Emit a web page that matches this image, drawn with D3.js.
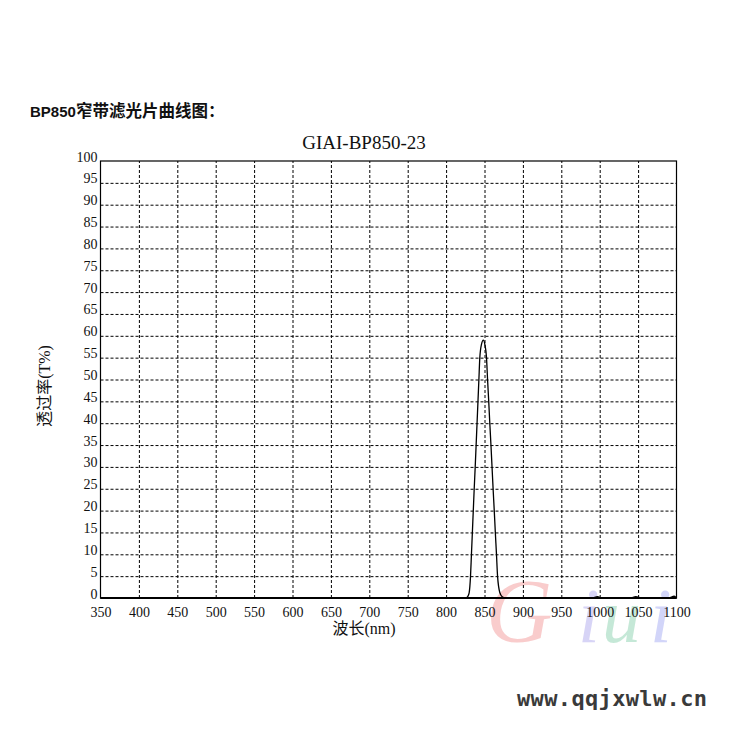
<!DOCTYPE html>
<html><head><meta charset="utf-8">
<script src="https://cdn.jsdelivr.net/npm/d3@7"></script>
<style>html,body{margin:0;padding:0;background:#fff;}svg{display:block;}</style>
</head><body>
<script>
const headingLatin = "BP850";
const headingCJK = "窄带滤光片曲线图：";
const chartTitle = "GIAI-BP850-23";
const xLabel = "波长(nm)";
const yLabel = "透过率(T%)";
const siteUrl = "www.qqjxwlw.cn";
const xTicks = [350,400,450,500,550,600,650,700,750,800,850,900,950,1000,1050,1100];
const yTicks = [0,5,10,15,20,25,30,35,40,45,50,55,60,65,70,75,80,85,90,95,100];
const wavelength = [350,500,700,820,826,828,830,831.8,833.0,834.2,835.4,836.6,837.9,839.1,840.3,841.5,842.7,843.9,846,848.5,850.5,852.6,854.0,855.5,856.9,858.4,859.8,861.2,862.7,864.1,865.6,867,870,873,877,900,990,997,1003,1040,1047,1055,1090,1097,1100];
const transmission = [0,0,0,0,0,0.3,1.2,5,10,15,20,25,30,35,40,45,50,55,58,59,58,55,50,45,40,35,30,25,20,15,10,5,1.2,0.3,0,0,0,0.3,0,0,0.3,0,0,0.4,0];

const W = 742, H = 743;
const svg = d3.select("body").append("svg").attr("width", W).attr("height", H);
const serif = "'Liberation Serif','Times New Roman','Noto Sans CJK SC',serif";

const x = d3.scaleLinear().domain([350,1100]).range([100.5,676.5]);
const y = d3.scaleLinear().domain([0,100]).range([598,161]);

// heading
const hd = svg.append("text").attr("x",30).attr("y",117)
  .attr("font-family","'Liberation Sans',Arial,'Noto Sans CJK SC',sans-serif")
  .attr("font-weight","bold").attr("fill","#111");
hd.append("tspan").attr("font-size",15).text(headingLatin);
hd.append("tspan").attr("font-size",16.5).attr("font-family","'Noto Sans CJK SC',sans-serif").text(headingCJK);

// chart title
svg.append("text").attr("x",364).attr("y",148.5).attr("text-anchor","middle")
  .attr("font-family",serif).attr("font-size",19).attr("fill","#111").text(chartTitle);

// watermark
const wm = svg.append("g").attr("font-family","'Liberation Serif',serif").attr("font-style","italic").attr("opacity",0.35);
const wmLetters = [{t:"G",x:486,c:"#ee6f6f",s:92},{t:"i",x:578,c:"#8f86e8",s:78},{t:"u",x:602,c:"#5cc08e",s:78},{t:"i",x:650,c:"#7f88ee",s:78}];
wmLetters.forEach(d=>wm.append("text").attr("x",d.x).attr("y",642).attr("font-size",d.s).attr("fill",d.c).text(d.t));

// gridlines
const g = svg.append("g");
g.append("g").attr("transform",`translate(${x.range()[0]},0)`)
  .call(d3.axisLeft(y).tickValues(yTicks.filter(v=>v>0&&v<100)).tickSize(-(x.range()[1]-x.range()[0])).tickFormat(""))
  .call(s=>s.select(".domain").remove())
  .call(s=>s.selectAll("line").attr("stroke","#000").attr("stroke-dasharray","3,2").attr("stroke-width",1));
g.append("g").attr("transform",`translate(0,${y.range()[0]})`)
  .call(d3.axisBottom(x).tickValues(xTicks.filter(v=>v>350&&v<1100)).tickSize(-(y.range()[0]-y.range()[1])).tickFormat(""))
  .call(s=>s.select(".domain").remove())
  .call(s=>s.selectAll("line").attr("stroke","#000").attr("stroke-dasharray","3,2").attr("stroke-width",1));

// frame
svg.append("rect").attr("x",x.range()[0]).attr("y",y.range()[1])
  .attr("width",x.range()[1]-x.range()[0]).attr("height",y.range()[0]-y.range()[1])
  .attr("fill","none").attr("stroke","#000").attr("stroke-width",1.2);
svg.append("line").attr("x1",x.range()[0]).attr("x2",x.range()[1]).attr("y1",y(0)).attr("y2",y(0))
  .attr("stroke","#000").attr("stroke-width",2.2);

// axis labels
const yAx = svg.append("g").attr("transform",`translate(${x.range()[0]},0)`)
  .call(d3.axisLeft(y).tickValues(yTicks).tickSize(0).tickPadding(3).tickFormat(d3.format("d")));
yAx.select(".domain").remove();
yAx.selectAll("text").attr("dy","0").attr("font-family",serif).attr("font-size",14).attr("fill","#111");
const xAx = svg.append("g").attr("transform",`translate(0,${y.range()[0]})`)
  .call(d3.axisBottom(x).tickValues(xTicks).tickSize(0).tickPadding(0).tickFormat(d3.format("d")));
xAx.select(".domain").remove();
xAx.selectAll("text").attr("y",19).attr("dy","0").attr("font-family",serif).attr("font-size",14).attr("fill","#111");

svg.append("text").attr("x",364).attr("y",634).attr("text-anchor","middle")
  .attr("font-family",serif).attr("font-size",16).attr("fill","#111").text(xLabel);
svg.append("text").attr("transform","translate(44,386) rotate(-90)").attr("text-anchor","middle")
  .attr("dominant-baseline","central")
  .attr("font-family",serif).attr("font-size",16).attr("fill","#111").text(yLabel);

// curve
const pts = wavelength.map((w,i)=>[w,transmission[i]]);
svg.append("path").datum(pts)
  .attr("d",d3.line().x(d=>x(d[0])).y(d=>y(d[1])).curve(d3.curveMonotoneX))
  .attr("fill","none").attr("stroke","#000").attr("stroke-width",1.3);

// url
svg.append("text").attr("x",517).attr("y",706)
  .attr("font-family","'DejaVu Sans Mono','Liberation Mono',monospace").attr("font-weight","bold")
  .attr("font-size",22).attr("letter-spacing",0.35).attr("fill","#3a3a3a").text(siteUrl);
</script>
</body></html>
